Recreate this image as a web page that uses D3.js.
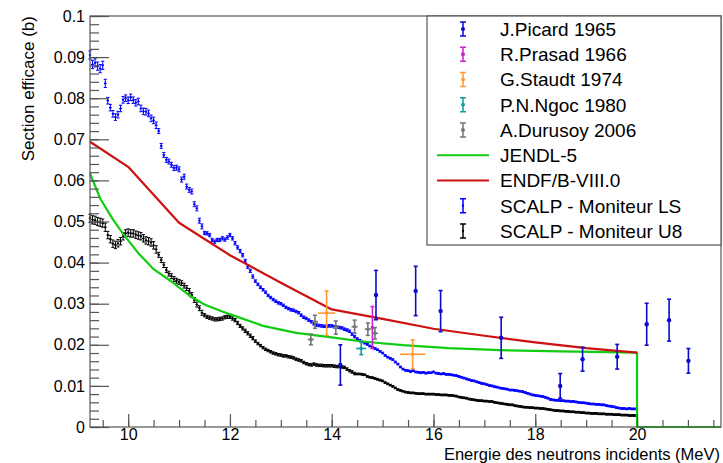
<!DOCTYPE html>
<html>
<head>
<meta charset="utf-8">
<script src="https://cdn.jsdelivr.net/npm/d3@7"></script>
<style>
  body { margin: 0; background: #fff; }
  svg { display: block; font-family: "Liberation Sans", Arial, Helvetica, sans-serif; }
</style>
</head>
<body>
<svg id="chart" width="723" height="463"></svg>
<script>
// SCALP measurements, one value every 0.05 MeV starting at 9.25 MeV
const gridStart = 9.25;
const gridStep = 0.05;

const scalpLS = [
  0.0905, 0.0882, 0.0886, 0.0878, 0.0872, 0.0880, 0.0836, 0.0794, 0.0777, 0.0762, // 9.25 - 9.70
  0.0754, 0.0760, 0.0775, 0.0796, 0.0800, 0.0795, 0.0802, 0.0795, 0.0789, 0.0792, // 9.75 - 10.20
  0.0775, 0.0768, 0.0767, 0.0763, 0.0751, 0.0746, 0.0734, 0.0720, 0.0684, 0.0662, // 10.25 - 10.70
  0.0650, 0.0646, 0.0638, 0.0630, 0.0631, 0.0627, 0.0602, 0.0609, 0.0585, 0.0577, // 10.75 - 11.20
  0.0573, 0.0542, 0.0532, 0.0502, 0.0488, 0.0472, 0.0471, 0.0467, 0.0455, 0.0451, // 11.25 - 11.70
  0.0455, 0.0455, 0.0459, 0.0456, 0.0461, 0.0467, 0.0459, 0.0447, 0.0437, 0.0428, // 11.75 - 12.20
  0.0418, 0.0404, 0.0390, 0.0380, 0.0366, 0.0355, 0.0347, 0.0340, 0.0334, 0.0328, // 12.25 - 12.70
  0.0320, 0.0315, 0.0310, 0.0306, 0.0302, 0.0300, 0.0296, 0.0291, 0.0288, 0.0285, // 12.75 - 13.20
  0.0284, 0.0281, 0.0278, 0.0272, 0.0267, 0.0264, 0.0260, 0.0256, 0.0251, 0.0248, // 13.25 - 13.70
  0.0247, 0.0246, 0.0245, 0.0245, 0.0246, 0.0246, 0.0244, 0.0243, 0.0242, 0.0241, // 13.75 - 14.20
  0.0238, 0.0236, 0.0233, 0.0226, 0.0220, 0.0215, 0.0211, 0.0207, 0.0204, 0.0201, // 14.25 - 14.70
  0.0197, 0.0194, 0.0191, 0.0188, 0.0184, 0.0180, 0.0174, 0.0170, 0.0167, 0.0164, // 14.75 - 15.20
  0.0158, 0.0153, 0.0146, 0.0141, 0.0138, 0.0137, 0.0135, 0.0137, 0.0134, 0.0133, // 15.25 - 15.70
  0.0132, 0.0133, 0.0131, 0.0132, 0.0132, 0.0134, 0.0131, 0.0130, 0.0129, 0.0130, // 15.75 - 16.20
  0.0128, 0.0128, 0.0127, 0.0126, 0.0125, 0.0123, 0.0121, 0.0119, 0.0117, 0.0115, // 16.25 - 16.70
  0.0113, 0.0112, 0.0110, 0.0108, 0.0106, 0.0105, 0.0103, 0.0101, 0.0100, 0.0098, // 16.75 - 17.20
  0.0097, 0.0095, 0.0094, 0.0093, 0.0092, 0.0090, 0.0090, 0.0089, 0.0088, 0.0087, // 17.25 - 17.70
  0.0086, 0.0084, 0.0082, 0.0080, 0.0078, 0.0077, 0.0076, 0.0075, 0.0074, 0.0072, // 17.75 - 18.20
  0.0070, 0.0067, 0.0066, 0.0065, 0.0065, 0.0064, 0.0064, 0.0063, 0.0063, 0.0062, // 18.25 - 18.70
  0.0062, 0.0061, 0.0060, 0.0059, 0.0059, 0.0058, 0.0057, 0.0056, 0.0056, 0.0055, // 18.75 - 19.20
  0.0055, 0.0054, 0.0054, 0.0052, 0.0051, 0.0050, 0.0049, 0.0047, 0.0046, 0.0045, // 19.25 - 19.70
  0.0045, 0.0044, 0.0045, 0.0044, 0.0044                                          // 19.75 - 19.95
];

const scalpU8 = [
  0.0508, 0.0504, 0.0503, 0.0500, 0.0498, 0.0496, 0.0486, 0.0467, 0.0457, 0.0446,
  0.0443, 0.0447, 0.0452, 0.0464, 0.0471, 0.0473, 0.0471, 0.0471, 0.0468, 0.0466,
  0.0464, 0.0459, 0.0454, 0.0452, 0.0449, 0.0442, 0.0432, 0.0419, 0.0406, 0.0394,
  0.0382, 0.0373, 0.0367, 0.0360, 0.0356, 0.0353, 0.0350, 0.0344, 0.0338, 0.0331,
  0.0321, 0.0309, 0.0298, 0.0289, 0.0278, 0.0272, 0.0268, 0.0266, 0.0264, 0.0262,
  0.0262, 0.0263, 0.0264, 0.0267, 0.0268, 0.0268, 0.0264, 0.0260, 0.0253, 0.0246,
  0.0240, 0.0234, 0.0228, 0.0222, 0.0216, 0.0209, 0.0203, 0.0198, 0.0193, 0.0189,
  0.0186, 0.0183, 0.0180, 0.0178, 0.0176, 0.0175, 0.0173, 0.0173, 0.0171, 0.0170,
  0.0168, 0.0165, 0.0163, 0.0161, 0.0157, 0.0154, 0.0152, 0.0151, 0.0153, 0.0151,
  0.0150, 0.0150, 0.0149, 0.0149, 0.0149, 0.0149, 0.0148, 0.0147, 0.0147, 0.0146,
  0.0145, 0.0141, 0.0137, 0.0134, 0.0130, 0.0129, 0.0129, 0.0128, 0.0127, 0.0123,
  0.0121, 0.0120, 0.0118, 0.0116, 0.0114, 0.0112, 0.0108, 0.0105, 0.0102, 0.0099,
  0.0095, 0.0091, 0.0089, 0.0087, 0.0085, 0.0084, 0.0083, 0.0083, 0.0082, 0.0081,
  0.0081, 0.0081, 0.0080, 0.0080, 0.0080, 0.0080, 0.0079, 0.0079, 0.0078, 0.0078,
  0.0078, 0.0077, 0.0077, 0.0076, 0.0075, 0.0073, 0.0072, 0.0071, 0.0070, 0.0068,
  0.0067, 0.0066, 0.0065, 0.0064, 0.0064, 0.0063, 0.0063, 0.0062, 0.0062, 0.0060,
  0.0059, 0.0058, 0.0057, 0.0056, 0.0055, 0.0054, 0.0054, 0.0052, 0.0051, 0.0050,
  0.0049, 0.0048, 0.0048, 0.0047, 0.0047, 0.0046, 0.0046, 0.0045, 0.0045, 0.0044,
  0.0043, 0.0042, 0.0041, 0.0040, 0.0040, 0.0039, 0.0039, 0.0038, 0.0038, 0.0037,
  0.0037, 0.0036, 0.0036, 0.0035, 0.0035, 0.0034, 0.0034, 0.0033, 0.0033, 0.0033,
  0.0032, 0.0032, 0.0032, 0.0031, 0.0031, 0.0031, 0.0030, 0.0030, 0.0030, 0.0029,
  0.0029, 0.0029, 0.0028, 0.0028, 0.0028
];

// SCALP uncertainties, constant inside each energy band
const errEdges = [9.25, 9.6, 10.6, 11.5, 12.5, 14.5];
const errLS = [0.0010, 0.0008, 0.0006, 0.0004, 0.0003, 0.0002];
const errU8 = [0.0010, 0.0009, 0.0006, 0.0004, 0.0003, 0.0002];

// evaluations
const jendlE = [9.25, 9.45, 9.7, 9.9, 10.2, 10.5, 10.85, 11.2, 11.5, 11.85, 12.15, 12.65, 13.3, 14.0, 14.6, 15.4, 16.3, 17.3, 18.5, 20.0, 20.0, 21.65];
const jendlV = [0.0617, 0.0556, 0.0505, 0.0470, 0.0423, 0.0384, 0.0354, 0.0320, 0.0298, 0.0281, 0.0268, 0.0246, 0.0229, 0.0218, 0.0208, 0.0199, 0.0192, 0.0187, 0.0184, 0.0181, 0, 0];
const endfE = [9.25, 10, 11, 12, 13, 14, 15, 16, 17, 18, 19, 20];
const endfV = [0.0694, 0.0633, 0.0497, 0.0418, 0.0351, 0.0286, 0.0263, 0.0239, 0.0222, 0.0206, 0.0192, 0.0181];

// literature
const picardE = [14.17, 14.87, 15.65, 16.14, 17.33, 18.49, 18.93, 19.61, 20.19, 20.63, 21.01];
const picardV = [0.0151, 0.0321, 0.0331, 0.0282, 0.0217, 0.0100, 0.0165, 0.0171, 0.0250, 0.0260, 0.0161];
const picardErr = [0.0049, 0.0060, 0.0060, 0.0050, 0.0050, 0.0030, 0.0029, 0.0030, 0.0051, 0.0051, 0.0030];
const prasadE = [14.80];
const prasadV = [0.0242];
const prasadErr = [0.0051];
const staudtE = [13.90, 15.59];
const staudtV = [0.0277, 0.0177];
const staudtErr = [0.0054, 0.0035];
const staudtXErr = [0.17, 0.25];
const ngocE = [14.58];
const ngocV = [0.0191];
const ngocErr = [0.0015];
const ngocXErr = [0.10];
const durusoyE = [13.59, 13.67, 14.08, 14.45, 14.71, 14.85];
const durusoyV = [0.0213, 0.0256, 0.0242, 0.0244, 0.0238, 0.0228];
const durusoyErr = [0.0013, 0.0016, 0.0016, 0.0016, 0.0015, 0.0014];
const durusoyXErr = [0.06, 0.06, 0.06, 0.06, 0.06, 0.06];

const xTicks = [10, 12, 14, 16, 18, 20];
const yTicks = [0, 0.01, 0.02, 0.03, 0.04, 0.05, 0.06, 0.07, 0.08, 0.09, 0.1];
const yLabels = ["0", "0.01", "0.02", "0.03", "0.04", "0.05", "0.06", "0.07", "0.08", "0.09", "0.1"];

const legendLabels = ["J.Picard 1965", "R.Prasad 1966", "G.Staudt 1974", "P.N.Ngoc 1980", "A.Durusoy 2006",
  "JENDL-5", "ENDF/B-VIII.0", "SCALP - Moniteur LS", "SCALP - Moniteur U8"];

const colPicard = "#0a0acc", colPrasad = "#cc22cc", colStaudt = "#ff9933", colNgoc = "#129c9c",
  colDurusoy = "#777777", colJendl = "#11cc11", colEndf = "#cc1111", colLS = "#0000ff", colU8 = "#000000";
const axisColor = "#555";

let svg = d3.select("#chart");
let padLeft = 90, padRight = 721, padTop = 16, padBottom = 427;

let x = d3.scaleLinear().domain([9.25, 21.65]).range([padLeft, padRight]);
let y = d3.scaleLinear().domain([0, 0.1]).range([padBottom, padTop]);

let plot = svg.append("g");

function errOf(e, errs) {
  let k = d3.bisectRight(errEdges, e) - 1;
  return errs[Math.max(0, Math.min(errs.length - 1, k))];
}

function scalpPoints(values, errs) {
  return values.map(function(v, i) {
    let e = gridStart + i * gridStep;
    return {e: e, v: v, err: errOf(e, errs), xerr: gridStep / 2};
  });
}

function litPoints(es, vs, errs, xerrs) {
  return es.map(function(e, i) {
    return {e: e, v: vs[i], err: errs[i], xerr: xerrs ? xerrs[i] : 0};
  });
}

// error bar points: vertical bar with caps, optional horizontal bar, small marker
function drawPoints(points, color, capW, markerR, width) {
  let g = plot.append("g").attr("stroke", color).attr("fill", color).attr("stroke-width", width);
  let pt = g.selectAll("g").data(points).join("g");
  pt.append("line")
    .attr("x1", d => x(d.e)).attr("x2", d => x(d.e))
    .attr("y1", d => y(d.v - d.err)).attr("y2", d => y(d.v + d.err));
  pt.append("line")
    .attr("x1", d => x(d.e) - capW).attr("x2", d => x(d.e) + capW)
    .attr("y1", d => y(d.v - d.err)).attr("y2", d => y(d.v - d.err));
  pt.append("line")
    .attr("x1", d => x(d.e) - capW).attr("x2", d => x(d.e) + capW)
    .attr("y1", d => y(d.v + d.err)).attr("y2", d => y(d.v + d.err));
  pt.filter(d => d.xerr > 0).append("line")
    .attr("x1", d => x(d.e - d.xerr)).attr("x2", d => x(d.e + d.xerr))
    .attr("y1", d => y(d.v)).attr("y2", d => y(d.v));
  pt.append("circle")
    .attr("cx", d => x(d.e)).attr("cy", d => y(d.v))
    .attr("r", markerR).attr("stroke", "none");
}

function drawCurve(es, vs, color) {
  let line = d3.line().x(d => x(d[0])).y(d => y(d[1]));
  plot.append("path")
    .datum(es.map((e, i) => [e, vs[i]]))
    .attr("d", line)
    .attr("fill", "none")
    .attr("stroke", color)
    .attr("stroke-width", 2.2)
    .attr("stroke-linejoin", "round");
}

// SCALP data
drawPoints(scalpPoints(scalpLS, errLS), colLS, 1.6, 1.1, 1);
drawPoints(scalpPoints(scalpU8, errU8), colU8, 1.6, 1.1, 1);

// evaluations
drawCurve(jendlE, jendlV, colJendl);
drawCurve(endfE, endfV, colEndf);

// literature data
drawPoints(litPoints(picardE, picardV, picardErr), colPicard, 2, 2.2, 1.6);
drawPoints(litPoints(prasadE, prasadV, prasadErr), colPrasad, 2, 1.8, 1.6);
drawPoints(litPoints(staudtE, staudtV, staudtErr, staudtXErr), colStaudt, 2, 1.8, 1.6);
drawPoints(litPoints(ngocE, ngocV, ngocErr, ngocXErr), colNgoc, 2, 1.8, 1.6);
drawPoints(litPoints(durusoyE, durusoyV, durusoyErr, durusoyXErr), colDurusoy, 2, 1.8, 1.6);

// frame
svg.append("rect")
  .attr("x", padLeft).attr("y", padTop)
  .attr("width", padRight - padLeft).attr("height", padBottom - padTop)
  .attr("fill", "none").attr("stroke", axisColor).attr("stroke-width", 1.2);

// y axis, ticks inside the frame
let yAxis = d3.axisLeft(y).tickValues(yTicks)
  .tickFormat((d, i) => yLabels[i])
  .tickSizeInner(-19).tickSizeOuter(0).tickPadding(5);
let yMinor = d3.axisLeft(y).tickValues(d3.range(0, 0.1001, 0.002))
  .tickFormat("").tickSizeInner(-9).tickSizeOuter(0);

let gyMinor = svg.append("g").attr("transform", "translate(" + padLeft + ",0)").call(yMinor);
let gy = svg.append("g").attr("transform", "translate(" + padLeft + ",0)").call(yAxis);

// x axis, ticks pointing up
let xAxis = d3.axisBottom(x).tickValues(xTicks)
  .tickFormat(d3.format("d"))
  .tickSizeInner(-13).tickSizeOuter(0).tickPadding(2);
let xMinor = d3.axisBottom(x).tickValues(d3.range(9.5, 21.65, 0.5))
  .tickFormat("").tickSizeInner(-7).tickSizeOuter(0);

let gxMinor = svg.append("g").attr("transform", "translate(0," + padBottom + ")").call(xMinor);
let gx = svg.append("g").attr("transform", "translate(0," + padBottom + ")").call(xAxis);

[gy, gyMinor, gx, gxMinor].forEach(function(g) {
  g.select(".domain").remove();
  g.selectAll(".tick line").attr("stroke", axisColor).attr("stroke-width", 1.2);
  g.selectAll("text")
    .attr("fill", "#000")
    .style("font-family", "'Liberation Sans', Arial, sans-serif")
    .style("font-size", "16px");
});

// axis titles
svg.append("text")
  .attr("transform", "translate(34," + padTop + ") rotate(-90)")
  .attr("text-anchor", "end")
  .style("font-size", "17px")
  .text("Section efficace (b)");

svg.append("text")
  .attr("x", 720).attr("y", 459.5)
  .attr("text-anchor", "end")
  .style("font-size", "16.5px")
  .text("Energie des neutrons incidents (MeV)");

// legend
let legend = svg.append("g");
legend.append("rect")
  .attr("x", 427).attr("y", padTop)
  .attr("width", padRight - 427).attr("height", 229)
  .attr("fill", "#fff").attr("stroke", axisColor).attr("stroke-width", 1.2);

let legendKinds = ["err", "err", "err", "err", "err", "line", "line", "err", "err"];
let legendColors = [colPicard, colPrasad, colStaudt, colNgoc, colDurusoy, colJendl, colEndf, colLS, colU8];
let rowY = i => 29 + i * 25.25;

let item = legend.selectAll("g.item")
  .data(legendLabels)
  .join("g")
  .attr("class", "item")
  .attr("transform", (d, i) => "translate(0," + rowY(i) + ")");

item.filter((d, i) => legendKinds[i] == "line")
  .append("line")
  .attr("x1", 437).attr("x2", 489)
  .attr("y1", 0).attr("y2", 0)
  .attr("stroke", d => legendColors[legendLabels.indexOf(d)])
  .attr("stroke-width", 2.2);

let errItem = item.filter((d, i) => legendKinds[i] == "err");
errItem.append("path")
  .attr("d", "M463,-7V7M460,-7H466M460,7H466")
  .attr("fill", "none")
  .attr("stroke", d => legendColors[legendLabels.indexOf(d)])
  .attr("stroke-width", 1.5);
errItem.append("circle")
  .attr("cx", 463).attr("cy", 0)
  .attr("r", d => legendLabels.indexOf(d) >= 7 ? 1.2 : 2)
  .attr("fill", d => legendColors[legendLabels.indexOf(d)]);

item.append("text")
  .attr("x", 500).attr("y", 0)
  .attr("dy", "0.36em")
  .style("font-size", "19px")
  .text(d => d);
</script>
</body>
</html>
